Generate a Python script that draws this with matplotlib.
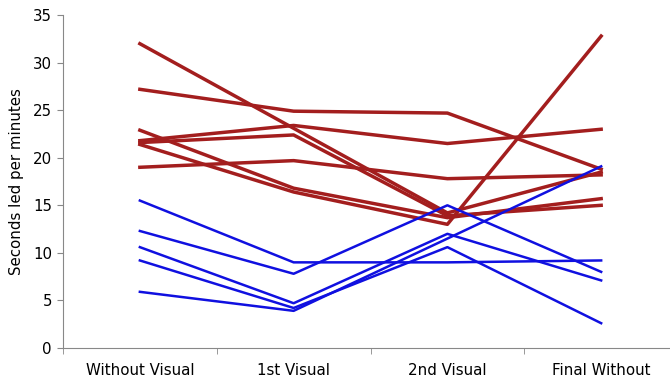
import numpy as np
import matplotlib.pyplot as plt

categories = ["Without Visual", "1st Visual", "2nd Visual", "Final Without"]

# red group
red_series = [
    [32.0, 23.1, 14.2, 18.5],
    [27.2, 24.9, 24.7, 18.8],
    [22.9, 16.8, 13.7, 15.7],
    [21.8, 23.4, 21.5, 23.0],
    [21.6, 22.4, 13.9, 15.0],
    [21.4, 16.4, 13.0, 32.8],
    [19.0, 19.7, 17.8, 18.2],
]

# blue group
blue_series = [
    [15.5, 9.0, 9.0, 9.2],
    [12.3, 7.8, 15.0, 8.0],
    [10.6, 4.7, 12.0, 7.1],
    [9.2, 4.2, 10.6, 2.6],
    [5.9, 3.9, 11.5, 19.1],
]

fig = plt.figure(figsize=(6.7, 3.79), dpi=100)
ax = fig.add_axes([0.094, 0.082, 0.918, 0.878])

x = np.arange(len(categories))
for s in red_series:
    ax.plot(x, s, color="#a31e1e", lw=2.5)
for s in blue_series:
    ax.plot(x, s, color="#1010e0", lw=1.8)

ax.set_xlim(-0.5, 3.5)
ax.set_ylim(0, 35)
ax.set_yticks(np.arange(0, 36, 5))
ax.set_xticks(x)
ax.set_xticklabels(categories)
ax.set_xticks(np.arange(-0.5, 3.6, 1), minor=True)
ax.tick_params(axis="x", which="major", length=0, pad=11, labelsize=10.8)
ax.tick_params(axis="x", which="minor", length=4, color="#888888")
ax.tick_params(axis="y", length=4, color="#888888", labelsize=10.8, pad=4)

for side in ["top", "right"]:
    ax.spines[side].set_visible(False)
for side in ["left", "bottom"]:
    ax.spines[side].set_color("#888888")
    ax.spines[side].set_linewidth(0.8)

ax.set_ylabel("Seconds led per minutes", fontsize=10.8, labelpad=6)

fig.savefig("out.png", dpi=100)
